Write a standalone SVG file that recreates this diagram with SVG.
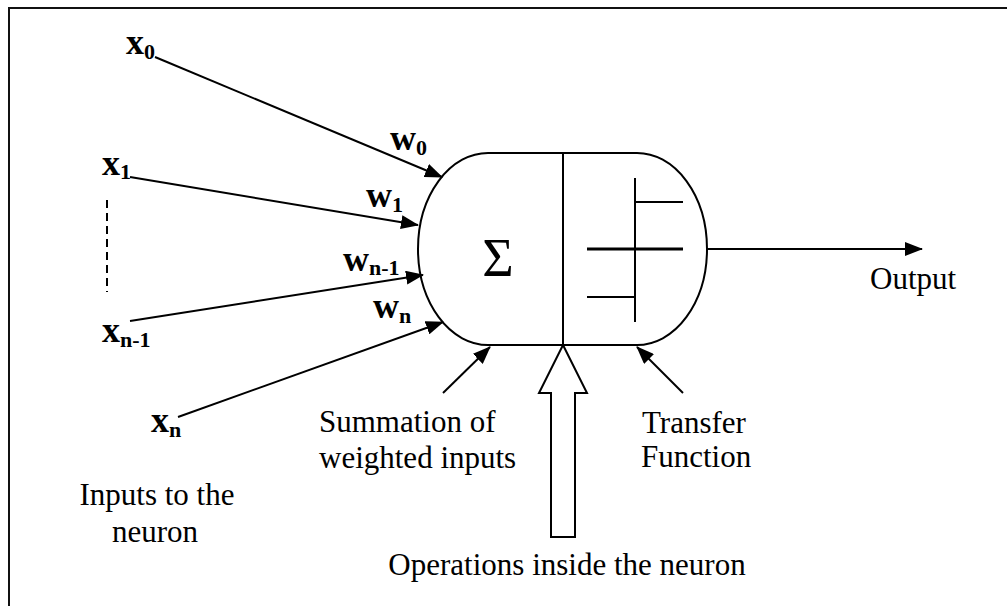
<svg xmlns="http://www.w3.org/2000/svg" width="1007" height="606" viewBox="0 0 1007 606">
  <style>
    .frame { fill: none; stroke: #111; stroke-width: 2; }
    .ln { fill: none; stroke: #000; stroke-width: 2; }
    .thick { fill: none; stroke: #000; stroke-width: 3; }
    .body { fill: #fff; stroke: #000; stroke-width: 2; }
    .lbl { font-family: "Liberation Serif", "Times New Roman", serif; font-weight: bold; font-size: 36px; fill: #000; }
    .sub { font-size: 22px; }
    .txt { font-family: "Liberation Serif", "Times New Roman", serif; font-size: 31px; fill: #000; }
    .dash { fill: none; stroke: #000; stroke-width: 2; stroke-dasharray: 8 5; }
  </style>
  <defs>
    <marker id="head" markerUnits="userSpaceOnUse" markerWidth="18" markerHeight="14" refX="17" refY="7" orient="auto">
      <path d="M0,0 L18,7 L0,14 Z" fill="#000"/>
    </marker>
  </defs>

  <rect width="1007" height="606" fill="#fff"/>
  <rect class="frame" x="9" y="8" width="1010" height="610"/>

  <!-- neuron body: summation half and transfer half -->
  <g id="neuron">
    <path class="body" d="M488,153 L637,153 A70,96 0 0 1 637,345 L488,345 A70,96 0 0 1 488,153 Z"/>
    <line class="ln" x1="563" y1="153" x2="563" y2="345"/>
    <text class="txt" x="498" y="276" text-anchor="middle" style="font-size:54px">Σ</text>
    <line class="ln" x1="635" y1="178" x2="635" y2="322"/>
    <line class="ln" x1="635" y1="202" x2="683" y2="202"/>
    <line class="thick" x1="587" y1="249" x2="683" y2="249"/>
    <line class="ln" x1="587" y1="297" x2="635" y2="297"/>
  </g>

  <!-- input labels -->
  <g id="input-x0"><text class="lbl" x="126" y="54">x<tspan class="sub" dy="5">0</tspan></text></g>
  <g id="input-x1"><text class="lbl" x="102" y="175">x<tspan class="sub" dy="4">1</tspan></text></g>
  <g id="input-xn-1"><text class="lbl" x="102" y="342">x<tspan class="sub" dy="5">n-1</tspan></text></g>
  <g id="input-xn"><text class="lbl" x="151" y="432">x<tspan class="sub" dy="5">n</tspan></text></g>

  <!-- weight labels -->
  <g id="weight-w0"><text class="lbl" x="390" y="150">w<tspan class="sub" dy="5">0</tspan></text></g>
  <g id="weight-w1"><text class="lbl" x="366" y="207">w<tspan class="sub" dy="5">1</tspan></text></g>
  <g id="weight-wn-1"><text class="lbl" x="343" y="271">w<tspan class="sub" dy="4">n-1</tspan></text></g>
  <g id="weight-wn"><text class="lbl" x="373" y="318">w<tspan class="sub" dy="5">n</tspan></text></g>

  <!-- captions -->
  <g id="caption-inputs">
    <text class="txt" x="157" y="505" text-anchor="middle">Inputs to the</text>
    <text class="txt" x="155" y="542" text-anchor="middle">neuron</text>
  </g>
  <g id="caption-summation">
    <text class="txt" x="319" y="432">Summation of</text>
    <text class="txt" x="319" y="468">weighted inputs</text>
  </g>
  <g id="caption-transfer">
    <text class="txt" x="642" y="433">Transfer</text>
    <text class="txt" x="641" y="467">Function</text>
  </g>
  <g id="caption-output"><text class="txt" x="870" y="289">Output</text></g>
  <g id="caption-operations"><text class="txt" x="567" y="575" text-anchor="middle">Operations inside the neuron</text></g>

  <!-- connectors -->
  <g id="connectors">
    <line class="ln" x1="155" y1="57" x2="442" y2="177" marker-end="url(#head)"/>
    <line class="ln" x1="130" y1="177" x2="418" y2="225" marker-end="url(#head)"/>
    <line class="ln" x1="130" y1="321" x2="423" y2="275" marker-end="url(#head)"/>
    <line class="ln" x1="178" y1="417" x2="443" y2="322" marker-end="url(#head)"/>
    <line class="dash" x1="107" y1="200" x2="107" y2="292"/>
    <line class="ln" x1="707" y1="249" x2="922" y2="249" marker-end="url(#head)"/>
    <line class="ln" x1="443" y1="393" x2="490" y2="347" marker-end="url(#head)"/>
    <line class="ln" x1="683" y1="393" x2="637" y2="347" marker-end="url(#head)"/>
    <polygon class="body" points="563,345 587,393 575,393 575,537 551,537 551,393 539,393"/>
  </g>
</svg>
